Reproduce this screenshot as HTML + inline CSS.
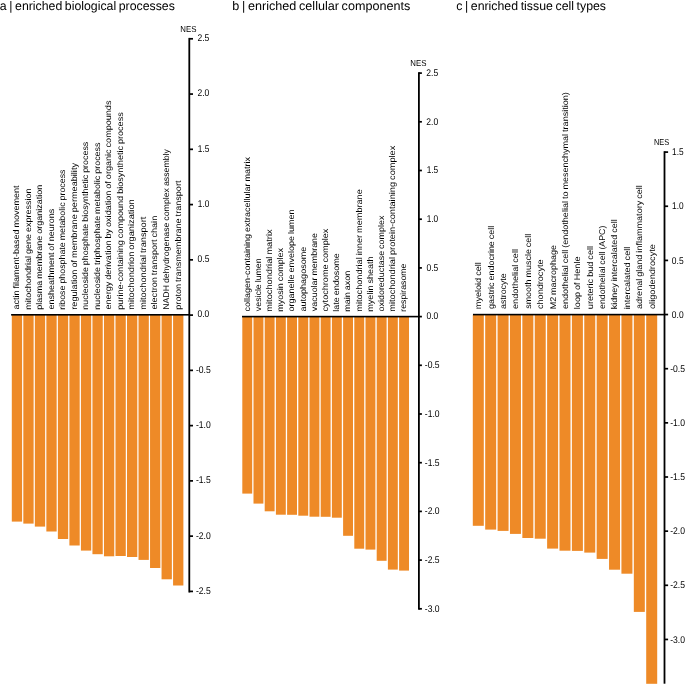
<!DOCTYPE html><html><head><meta charset="utf-8"><style>html,body{margin:0;padding:0;background:#fff;}svg{display:block;will-change:transform;}text{font-family:"Liberation Sans",sans-serif;fill:#000;text-rendering:geometricPrecision;}</style></head><body>
<svg width="685" height="685" viewBox="0 0 685 685">
<rect width="685" height="685" fill="#fff"/>
<text x="-0.22" y="10.25" font-size="12.4" word-spacing="-0.8" textLength="175.06" lengthAdjust="spacingAndGlyphs">a | enriched biological processes</text>
<text x="232.39" y="10.25" font-size="12.4" word-spacing="-0.8" textLength="177.86" lengthAdjust="spacingAndGlyphs">b | enriched cellular components</text>
<text x="456.18" y="10.25" font-size="12.4" word-spacing="-0.8" textLength="149.86" lengthAdjust="spacingAndGlyphs">c | enriched tissue cell types</text>
<rect x="11.80" y="314.80" width="10.30" height="206.80" fill="#EE8A27"/>
<rect x="23.32" y="314.80" width="10.30" height="208.80" fill="#EE8A27"/>
<rect x="34.84" y="314.80" width="10.30" height="211.80" fill="#EE8A27"/>
<rect x="46.36" y="314.80" width="10.30" height="216.70" fill="#EE8A27"/>
<rect x="57.88" y="314.80" width="10.30" height="224.20" fill="#EE8A27"/>
<rect x="69.40" y="314.80" width="10.30" height="230.70" fill="#EE8A27"/>
<rect x="80.92" y="314.80" width="10.30" height="235.80" fill="#EE8A27"/>
<rect x="92.44" y="314.80" width="10.30" height="239.40" fill="#EE8A27"/>
<rect x="103.96" y="314.80" width="10.30" height="241.50" fill="#EE8A27"/>
<rect x="115.48" y="314.80" width="10.30" height="241.20" fill="#EE8A27"/>
<rect x="127.00" y="314.80" width="10.30" height="242.20" fill="#EE8A27"/>
<rect x="138.52" y="314.80" width="10.30" height="245.10" fill="#EE8A27"/>
<rect x="150.04" y="314.80" width="10.30" height="253.20" fill="#EE8A27"/>
<rect x="161.56" y="314.80" width="10.30" height="264.50" fill="#EE8A27"/>
<rect x="173.08" y="314.80" width="10.30" height="270.70" fill="#EE8A27"/>
<rect x="11.10" y="314.00" width="178.20" height="1.6" fill="#000"/>
<rect x="188.40" y="37.90" width="1.8" height="554.60" fill="#000"/>
<rect x="189.30" y="37.95" width="3.70" height="1.7" fill="#000"/>
<text x="197.47" y="41.17" font-size="9.8" textLength="11.88" lengthAdjust="spacingAndGlyphs">2.5</text>
<rect x="189.30" y="93.21" width="3.70" height="1.7" fill="#000"/>
<text x="197.47" y="96.43" font-size="9.8" textLength="11.85" lengthAdjust="spacingAndGlyphs">2.0</text>
<rect x="189.30" y="148.47" width="3.70" height="1.7" fill="#000"/>
<text x="197.77" y="151.64" font-size="9.8" textLength="11.58" lengthAdjust="spacingAndGlyphs">1.5</text>
<rect x="189.30" y="203.73" width="3.70" height="1.7" fill="#000"/>
<text x="197.77" y="206.95" font-size="9.8" textLength="11.55" lengthAdjust="spacingAndGlyphs">1.0</text>
<rect x="189.30" y="258.99" width="3.70" height="1.7" fill="#000"/>
<text x="197.57" y="262.21" font-size="9.8" textLength="11.78" lengthAdjust="spacingAndGlyphs">0.5</text>
<rect x="189.30" y="314.25" width="3.70" height="1.7" fill="#000"/>
<text x="197.57" y="317.47" font-size="9.8" textLength="11.75" lengthAdjust="spacingAndGlyphs">0.0</text>
<rect x="189.30" y="369.51" width="3.70" height="1.7" fill="#000"/>
<text x="195.92" y="372.73" font-size="9.8" textLength="14.83" lengthAdjust="spacingAndGlyphs">-0.5</text>
<rect x="189.30" y="424.77" width="3.70" height="1.7" fill="#000"/>
<text x="195.92" y="427.99" font-size="9.8" textLength="14.81" lengthAdjust="spacingAndGlyphs">-1.0</text>
<rect x="189.30" y="480.03" width="3.70" height="1.7" fill="#000"/>
<text x="195.92" y="483.20" font-size="9.8" textLength="14.83" lengthAdjust="spacingAndGlyphs">-1.5</text>
<rect x="189.30" y="535.29" width="3.70" height="1.7" fill="#000"/>
<text x="195.92" y="538.51" font-size="9.8" textLength="14.81" lengthAdjust="spacingAndGlyphs">-2.0</text>
<rect x="189.30" y="590.55" width="3.70" height="1.7" fill="#000"/>
<text x="195.92" y="593.77" font-size="9.8" textLength="14.83" lengthAdjust="spacingAndGlyphs">-2.5</text>
<text x="180.36" y="32.10" font-size="8.6" textLength="16.10" lengthAdjust="spacingAndGlyphs">NES</text>
<text transform="translate(19.25 309.48) rotate(-90)" font-size="8.4" word-spacing="-0.5" textLength="123.94" lengthAdjust="spacingAndGlyphs">actin filament-based movement</text>
<text transform="translate(30.77 309.70) rotate(-90)" font-size="8.4" word-spacing="-0.5" textLength="121.28" lengthAdjust="spacingAndGlyphs">mitochondrial gene expression</text>
<text transform="translate(42.29 309.68) rotate(-90)" font-size="8.4" word-spacing="-0.5" textLength="124.85" lengthAdjust="spacingAndGlyphs">plasma membrane organization</text>
<text transform="translate(53.81 309.48) rotate(-90)" font-size="8.4" word-spacing="-0.5" textLength="100.70" lengthAdjust="spacingAndGlyphs">ensheathment of neurons</text>
<text transform="translate(65.33 309.68) rotate(-90)" font-size="8.4" word-spacing="-0.5" textLength="140.21" lengthAdjust="spacingAndGlyphs">ribose phosphate metabolic process</text>
<text transform="translate(76.85 309.70) rotate(-90)" font-size="8.4" word-spacing="-0.5" textLength="146.72" lengthAdjust="spacingAndGlyphs">regulation of membrane permeability</text>
<text transform="translate(88.37 309.69) rotate(-90)" font-size="8.4" word-spacing="-0.5" textLength="168.01" lengthAdjust="spacingAndGlyphs">nucleoside phosphate biosynthetic process</text>
<text transform="translate(99.89 309.69) rotate(-90)" font-size="8.4" word-spacing="-0.5" textLength="167.21" lengthAdjust="spacingAndGlyphs">nucleoside triphosphate metabolic process</text>
<text transform="translate(111.41 309.48) rotate(-90)" font-size="8.4" word-spacing="-0.5" textLength="208.91" lengthAdjust="spacingAndGlyphs">energy derivation by oxidation of organic compounds</text>
<text transform="translate(122.93 309.68) rotate(-90)" font-size="8.4" word-spacing="-0.5" textLength="197.40" lengthAdjust="spacingAndGlyphs">purine-containing compound biosynthetic process</text>
<text transform="translate(134.45 309.71) rotate(-90)" font-size="8.4" word-spacing="-0.5" textLength="110.41" lengthAdjust="spacingAndGlyphs">mitochondrion organization</text>
<text transform="translate(145.97 309.71) rotate(-90)" font-size="8.4" word-spacing="-0.5" textLength="93.07" lengthAdjust="spacingAndGlyphs">mitochondrial transport</text>
<text transform="translate(157.49 309.48) rotate(-90)" font-size="8.4" word-spacing="-0.5" textLength="93.66" lengthAdjust="spacingAndGlyphs">electron transport chain</text>
<text transform="translate(169.01 309.82) rotate(-90)" font-size="8.4" word-spacing="-0.5" textLength="160.74" lengthAdjust="spacingAndGlyphs">NADH dehydrogenase complex assembly</text>
<text transform="translate(180.53 309.68) rotate(-90)" font-size="8.4" word-spacing="-0.5" textLength="129.14" lengthAdjust="spacingAndGlyphs">proton transmembrane transport</text>
<rect x="242.30" y="316.60" width="9.90" height="177.00" fill="#EE8A27"/>
<rect x="253.50" y="316.60" width="9.90" height="187.00" fill="#EE8A27"/>
<rect x="264.70" y="316.60" width="9.90" height="194.70" fill="#EE8A27"/>
<rect x="275.90" y="316.60" width="9.90" height="198.10" fill="#EE8A27"/>
<rect x="287.10" y="316.60" width="9.90" height="198.20" fill="#EE8A27"/>
<rect x="298.30" y="316.60" width="9.90" height="199.10" fill="#EE8A27"/>
<rect x="309.50" y="316.60" width="9.90" height="200.10" fill="#EE8A27"/>
<rect x="320.70" y="316.60" width="9.90" height="200.20" fill="#EE8A27"/>
<rect x="331.90" y="316.60" width="9.90" height="201.10" fill="#EE8A27"/>
<rect x="343.10" y="316.60" width="9.90" height="219.20" fill="#EE8A27"/>
<rect x="354.30" y="316.60" width="9.90" height="232.10" fill="#EE8A27"/>
<rect x="365.50" y="316.60" width="9.90" height="233.00" fill="#EE8A27"/>
<rect x="376.70" y="316.60" width="9.90" height="244.20" fill="#EE8A27"/>
<rect x="387.90" y="316.60" width="9.90" height="253.00" fill="#EE8A27"/>
<rect x="399.10" y="316.60" width="9.90" height="254.00" fill="#EE8A27"/>
<rect x="242.00" y="315.80" width="176.90" height="1.6" fill="#000"/>
<rect x="418.00" y="72.20" width="1.8" height="537.50" fill="#000"/>
<rect x="418.90" y="72.25" width="3.00" height="1.7" fill="#000"/>
<text x="426.37" y="75.97" font-size="9.8" textLength="11.88" lengthAdjust="spacingAndGlyphs">2.5</text>
<rect x="418.90" y="120.95" width="3.00" height="1.7" fill="#000"/>
<text x="426.37" y="124.67" font-size="9.8" textLength="11.85" lengthAdjust="spacingAndGlyphs">2.0</text>
<rect x="418.90" y="169.65" width="3.00" height="1.7" fill="#000"/>
<text x="426.67" y="173.32" font-size="9.8" textLength="11.58" lengthAdjust="spacingAndGlyphs">1.5</text>
<rect x="418.90" y="218.35" width="3.00" height="1.7" fill="#000"/>
<text x="426.67" y="222.07" font-size="9.8" textLength="11.55" lengthAdjust="spacingAndGlyphs">1.0</text>
<rect x="418.90" y="267.05" width="3.00" height="1.7" fill="#000"/>
<text x="426.47" y="270.77" font-size="9.8" textLength="11.78" lengthAdjust="spacingAndGlyphs">0.5</text>
<rect x="418.90" y="315.75" width="3.00" height="1.7" fill="#000"/>
<text x="426.47" y="319.47" font-size="9.8" textLength="11.75" lengthAdjust="spacingAndGlyphs">0.0</text>
<rect x="418.90" y="364.45" width="3.00" height="1.7" fill="#000"/>
<text x="424.82" y="368.17" font-size="9.8" textLength="14.83" lengthAdjust="spacingAndGlyphs">-0.5</text>
<rect x="418.90" y="413.15" width="3.00" height="1.7" fill="#000"/>
<text x="424.82" y="416.87" font-size="9.8" textLength="14.81" lengthAdjust="spacingAndGlyphs">-1.0</text>
<rect x="418.90" y="461.85" width="3.00" height="1.7" fill="#000"/>
<text x="424.82" y="465.52" font-size="9.8" textLength="14.83" lengthAdjust="spacingAndGlyphs">-1.5</text>
<rect x="418.90" y="510.55" width="3.00" height="1.7" fill="#000"/>
<text x="424.82" y="514.27" font-size="9.8" textLength="14.81" lengthAdjust="spacingAndGlyphs">-2.0</text>
<rect x="418.90" y="559.25" width="3.00" height="1.7" fill="#000"/>
<text x="424.82" y="562.97" font-size="9.8" textLength="14.83" lengthAdjust="spacingAndGlyphs">-2.5</text>
<rect x="418.90" y="607.95" width="3.00" height="1.7" fill="#000"/>
<text x="424.82" y="611.67" font-size="9.8" textLength="14.81" lengthAdjust="spacingAndGlyphs">-3.0</text>
<text x="410.26" y="65.70" font-size="8.6" textLength="16.10" lengthAdjust="spacingAndGlyphs">NES</text>
<text transform="translate(249.55 311.48) rotate(-90)" font-size="8.4" word-spacing="-0.5" textLength="154.37" lengthAdjust="spacingAndGlyphs">collagen-containing extracellular matrix</text>
<text transform="translate(260.75 311.13) rotate(-90)" font-size="8.4" word-spacing="-0.5" textLength="52.79" lengthAdjust="spacingAndGlyphs">vesicle lumen</text>
<text transform="translate(271.95 311.71) rotate(-90)" font-size="8.4" word-spacing="-0.5" textLength="82.31" lengthAdjust="spacingAndGlyphs">mitochondrial matrix</text>
<text transform="translate(283.15 311.69) rotate(-90)" font-size="8.4" word-spacing="-0.5" textLength="63.78" lengthAdjust="spacingAndGlyphs">myosin complex</text>
<text transform="translate(294.35 311.48) rotate(-90)" font-size="8.4" word-spacing="-0.5" textLength="102.05" lengthAdjust="spacingAndGlyphs">organelle envelope lumen</text>
<text transform="translate(305.55 311.48) rotate(-90)" font-size="8.4" word-spacing="-0.5" textLength="64.68" lengthAdjust="spacingAndGlyphs">autophagosome</text>
<text transform="translate(316.75 311.13) rotate(-90)" font-size="8.4" word-spacing="-0.5" textLength="78.12" lengthAdjust="spacingAndGlyphs">vacuolar membrane</text>
<text transform="translate(327.95 311.48) rotate(-90)" font-size="8.4" word-spacing="-0.5" textLength="82.87" lengthAdjust="spacingAndGlyphs">cytochrome complex</text>
<text transform="translate(339.15 311.70) rotate(-90)" font-size="8.4" word-spacing="-0.5" textLength="58.60" lengthAdjust="spacingAndGlyphs">late endosome</text>
<text transform="translate(350.35 311.69) rotate(-90)" font-size="8.4" word-spacing="-0.5" textLength="40.97" lengthAdjust="spacingAndGlyphs">main axon</text>
<text transform="translate(361.55 311.70) rotate(-90)" font-size="8.4" word-spacing="-0.5" textLength="122.51" lengthAdjust="spacingAndGlyphs">mitochondrial inner membrane</text>
<text transform="translate(372.75 311.70) rotate(-90)" font-size="8.4" word-spacing="-0.5" textLength="55.28" lengthAdjust="spacingAndGlyphs">myelin sheath</text>
<text transform="translate(383.95 311.48) rotate(-90)" font-size="8.4" word-spacing="-0.5" textLength="95.86" lengthAdjust="spacingAndGlyphs">oxidoreductase complex</text>
<text transform="translate(395.15 311.71) rotate(-90)" font-size="8.4" word-spacing="-0.5" textLength="166.00" lengthAdjust="spacingAndGlyphs">mitochondrial protein-containing complex</text>
<text transform="translate(406.35 311.68) rotate(-90)" font-size="8.4" word-spacing="-0.5" textLength="48.06" lengthAdjust="spacingAndGlyphs">respirasome</text>
<rect x="472.80" y="314.60" width="11.00" height="211.20" fill="#EE8A27"/>
<rect x="485.19" y="314.60" width="11.00" height="215.00" fill="#EE8A27"/>
<rect x="497.57" y="314.60" width="11.00" height="216.30" fill="#EE8A27"/>
<rect x="509.96" y="314.60" width="11.00" height="219.30" fill="#EE8A27"/>
<rect x="522.34" y="314.60" width="11.00" height="223.40" fill="#EE8A27"/>
<rect x="534.73" y="314.60" width="11.00" height="224.10" fill="#EE8A27"/>
<rect x="547.12" y="314.60" width="11.00" height="234.00" fill="#EE8A27"/>
<rect x="559.50" y="314.60" width="11.00" height="236.10" fill="#EE8A27"/>
<rect x="571.89" y="314.60" width="11.00" height="236.30" fill="#EE8A27"/>
<rect x="584.27" y="314.60" width="11.00" height="238.00" fill="#EE8A27"/>
<rect x="596.66" y="314.60" width="11.00" height="244.30" fill="#EE8A27"/>
<rect x="609.05" y="314.60" width="11.00" height="255.10" fill="#EE8A27"/>
<rect x="621.43" y="314.60" width="11.00" height="259.10" fill="#EE8A27"/>
<rect x="633.82" y="314.60" width="11.00" height="297.30" fill="#EE8A27"/>
<rect x="646.20" y="314.60" width="11.00" height="369.20" fill="#EE8A27"/>
<rect x="473.00" y="313.80" width="191.50" height="1.6" fill="#000"/>
<rect x="663.60" y="151.20" width="1.8" height="532.50" fill="#000"/>
<rect x="664.50" y="151.25" width="3.60" height="1.7" fill="#000"/>
<text x="672.07" y="155.22" font-size="9.8" textLength="11.58" lengthAdjust="spacingAndGlyphs">1.5</text>
<rect x="664.50" y="205.40" width="3.60" height="1.7" fill="#000"/>
<text x="672.07" y="209.42" font-size="9.8" textLength="11.55" lengthAdjust="spacingAndGlyphs">1.0</text>
<rect x="664.50" y="259.55" width="3.60" height="1.7" fill="#000"/>
<text x="671.87" y="263.57" font-size="9.8" textLength="11.78" lengthAdjust="spacingAndGlyphs">0.5</text>
<rect x="664.50" y="313.70" width="3.60" height="1.7" fill="#000"/>
<text x="671.87" y="317.72" font-size="9.8" textLength="11.75" lengthAdjust="spacingAndGlyphs">0.0</text>
<rect x="664.50" y="367.85" width="3.60" height="1.7" fill="#000"/>
<text x="670.22" y="371.87" font-size="9.8" textLength="14.83" lengthAdjust="spacingAndGlyphs">-0.5</text>
<rect x="664.50" y="422.00" width="3.60" height="1.7" fill="#000"/>
<text x="670.22" y="426.02" font-size="9.8" textLength="14.81" lengthAdjust="spacingAndGlyphs">-1.0</text>
<rect x="664.50" y="476.15" width="3.60" height="1.7" fill="#000"/>
<text x="670.22" y="480.12" font-size="9.8" textLength="14.83" lengthAdjust="spacingAndGlyphs">-1.5</text>
<rect x="664.50" y="530.30" width="3.60" height="1.7" fill="#000"/>
<text x="670.22" y="534.32" font-size="9.8" textLength="14.81" lengthAdjust="spacingAndGlyphs">-2.0</text>
<rect x="664.50" y="584.45" width="3.60" height="1.7" fill="#000"/>
<text x="670.22" y="588.47" font-size="9.8" textLength="14.83" lengthAdjust="spacingAndGlyphs">-2.5</text>
<rect x="664.50" y="638.60" width="3.60" height="1.7" fill="#000"/>
<text x="670.22" y="642.62" font-size="9.8" textLength="14.81" lengthAdjust="spacingAndGlyphs">-3.0</text>
<text x="653.99" y="145.00" font-size="8.6" textLength="15.24" lengthAdjust="spacingAndGlyphs">NES</text>
<text transform="translate(481.20 309.20) rotate(-90)" font-size="8.4" word-spacing="-0.5" textLength="47.00" lengthAdjust="spacingAndGlyphs">myeloid cell</text>
<text transform="translate(493.59 308.98) rotate(-90)" font-size="8.4" word-spacing="-0.5" textLength="83.28" lengthAdjust="spacingAndGlyphs">gastric endocrine cell</text>
<text transform="translate(505.97 308.97) rotate(-90)" font-size="8.4" word-spacing="-0.5" textLength="35.66" lengthAdjust="spacingAndGlyphs">astrocyte</text>
<text transform="translate(518.36 308.98) rotate(-90)" font-size="8.4" word-spacing="-0.5" textLength="59.99" lengthAdjust="spacingAndGlyphs">endothelial cell</text>
<text transform="translate(530.74 308.84) rotate(-90)" font-size="8.4" word-spacing="-0.5" textLength="75.13" lengthAdjust="spacingAndGlyphs">smooth muscle cell</text>
<text transform="translate(543.13 308.98) rotate(-90)" font-size="8.4" word-spacing="-0.5" textLength="49.48" lengthAdjust="spacingAndGlyphs">chondrocyte</text>
<text transform="translate(555.52 309.33) rotate(-90)" font-size="8.4" word-spacing="-0.5" textLength="64.23" lengthAdjust="spacingAndGlyphs">M2 macrophage</text>
<text transform="translate(567.90 308.98) rotate(-90)" font-size="8.4" word-spacing="-0.5" textLength="216.74" lengthAdjust="spacingAndGlyphs">endothelial cell (endothelial to mesenchymal transition)</text>
<text transform="translate(580.29 309.21) rotate(-90)" font-size="8.4" word-spacing="-0.5" textLength="52.71" lengthAdjust="spacingAndGlyphs">loop of Henle</text>
<text transform="translate(592.67 309.18) rotate(-90)" font-size="8.4" word-spacing="-0.5" textLength="63.18" lengthAdjust="spacingAndGlyphs">ureteric bud cell</text>
<text transform="translate(605.06 308.97) rotate(-90)" font-size="8.4" word-spacing="-0.5" textLength="83.31" lengthAdjust="spacingAndGlyphs">endothelial cell (APC)</text>
<text transform="translate(617.45 309.20) rotate(-90)" font-size="8.4" word-spacing="-0.5" textLength="89.89" lengthAdjust="spacingAndGlyphs">kidney intercalated cell</text>
<text transform="translate(629.83 309.20) rotate(-90)" font-size="8.4" word-spacing="-0.5" textLength="62.40" lengthAdjust="spacingAndGlyphs">intercalated cell</text>
<text transform="translate(642.22 308.98) rotate(-90)" font-size="8.4" word-spacing="-0.5" textLength="123.78" lengthAdjust="spacingAndGlyphs">adrenal gland inflammatory cell</text>
<text transform="translate(654.60 308.99) rotate(-90)" font-size="8.4" word-spacing="-0.5" textLength="64.90" lengthAdjust="spacingAndGlyphs">oligodendrocyte</text>
</svg></body></html>
